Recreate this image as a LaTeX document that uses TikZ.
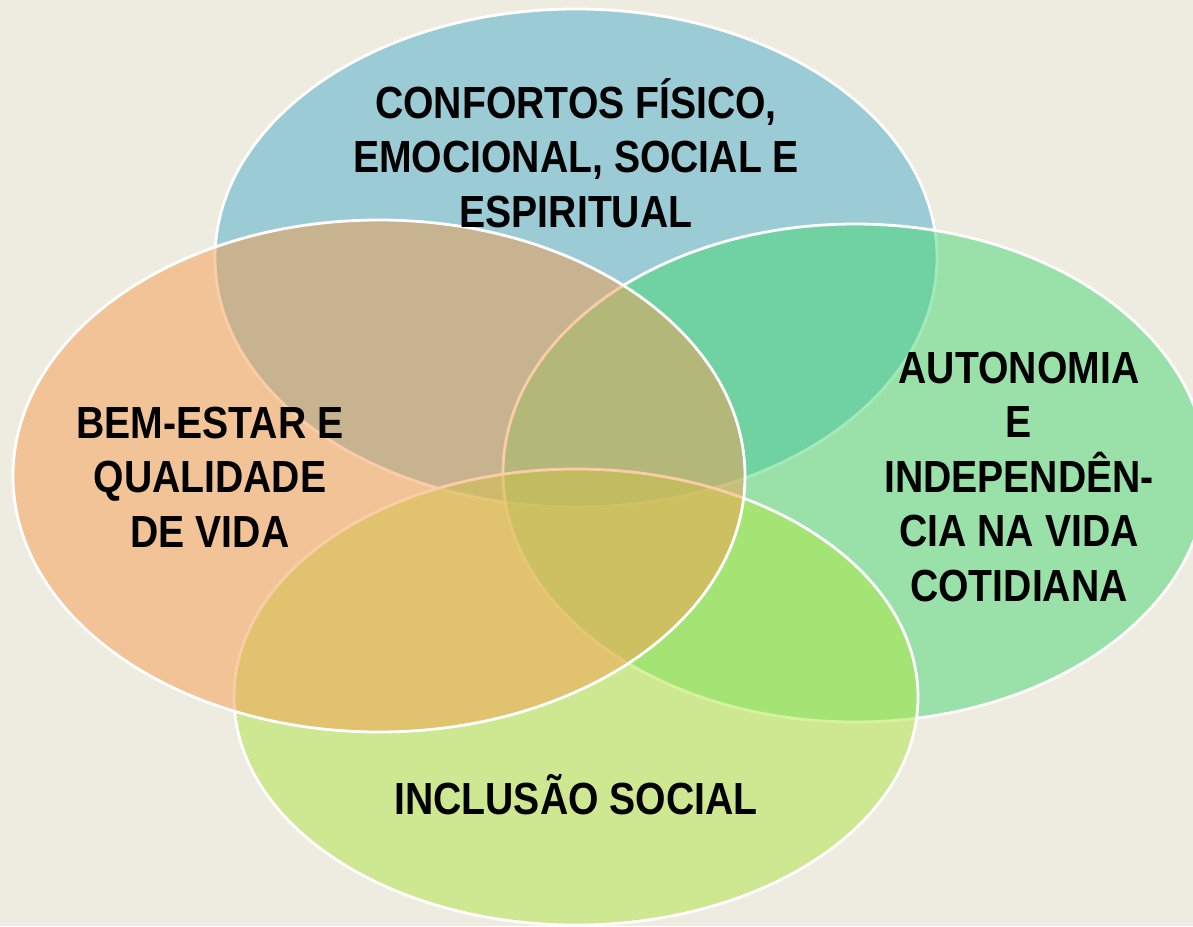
\documentclass[tikz,border=0pt]{standalone}
\usepackage{fontspec}
\setmainfont{Liberation Sans}[FakeStretch=0.87]
\usepackage{tikz}
\definecolor{bgpaper}{HTML}{EEEBE0}
\definecolor{confblue}{RGB}{74,173,201}
\definecolor{bemorange}{RGB}{246,157,80}
\definecolor{autgreen}{RGB}{70,217,115}
\definecolor{inclime}{RGB}{174,231,65}
\tikzset{
  petal/.style={draw=white, line width=2.8, fill opacity=0.5},
  petaltext/.style={align=center, anchor=base, inner sep=0,
    font=\bfseries\fontsize{45}{54.5}\selectfont}
}

\begin{document}
\begin{tikzpicture}[x=1pt,y=-1pt]
\useasboundingbox (0,0) rectangle (1193,926);
\fill[bgpaper] (0,0) rectangle (1193,926);
\draw[petal, fill=confblue] (576,258) ellipse [x radius=361, y radius=249];
\draw[petal, fill=autgreen] (855,473) ellipse [x radius=352, y radius=249];
\draw[petal, fill=inclime] (576,697) ellipse [x radius=342, y radius=228];
\draw[petal, fill=bemorange] (379,476) ellipse [x radius=366, y radius=256];
\node[petaltext] (confortos) at (576,227) {CONFORTOS FÍSICO,\\EMOCIONAL, SOCIAL E\\ESPIRITUAL};
\node[petaltext] (bemestar) at (210,547) {BEM-ESTAR E\\QUALIDADE\\DE VIDA};
\node[petaltext] (autonomia) at (1019,601) {AUTONOMIA\\E\\INDEPENDÊN-\\CIA NA VIDA\\COTIDIANA};
\node[petaltext] (inclusao) at (576,814) {INCLUSÃO SOCIAL};
\end{tikzpicture}
\end{document}
